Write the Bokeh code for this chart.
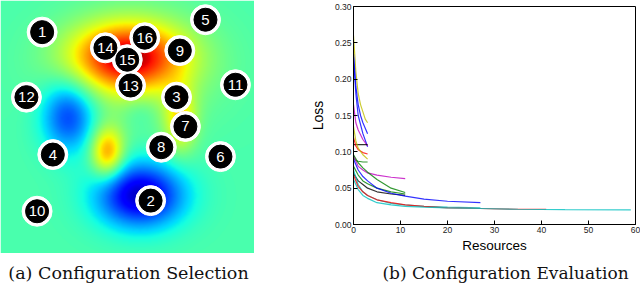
import numpy as np
from bokeh.plotting import figure
from bokeh.models import Range1d, LinearColorMapper, Label, FixedTicker, CustomJSTickFormatter
from bokeh.layouts import column, row
from bokeh.embed import file_html
from bokeh.resources import INLINE
from bokeh.core.properties import value

# ---------------- (a) configuration selection ----------------
cfg_id = [str(i) for i in range(1, 17)]
cfg_x = [0.164, 0.591, 0.693, 0.206, 0.807, 0.866, 0.728, 0.633,
         0.706, 0.144, 0.925, 0.102, 0.512, 0.413, 0.499, 0.568]
cfg_y = [0.875, 0.209, 0.618, 0.391, 0.924, 0.383, 0.502, 0.420,
         0.802, 0.167, 0.667, 0.618, 0.664, 0.813, 0.766, 0.853]

# surface features (centre, amplitude, spread)
base_level = 0.44
bump_x = [0.50, 0.53, 0.55, 0.268, 0.421, 0.709, 0.55]
bump_y = [0.78, 0.74, 0.23, 0.545, 0.399, 0.526, 0.565]
bump_amp = [0.42, 0.12, -0.38, -0.26, 0.31, 0.21, -0.05]
bump_sx = [0.15, 0.21, 0.12, 0.075, 0.045, 0.045, 0.05]
bump_sy = [0.09, 0.15, 0.09, 0.10, 0.07, 0.09, 0.05]

# ---------------- (b) configuration evaluation ----------------
x_ticks = [0, 10, 20, 30, 40, 50, 60]
y_ticks = [0.00, 0.05, 0.10, 0.15, 0.20, 0.25, 0.30]

curve_color = ["#bfbf00", "#0000ff", "#0000ff", "#bf00bf", "#000000", "#ff0000",
               "#bfbf00", "#008000", "#bf00bf", "#008000", "#008000", "#000000",
               "#0000ff", "#00bfbf", "#ff0000", "#00bfbf"]
curve_x = [
    [0, 0.5, 1, 1.5, 2, 2.5, 3],
    [0, 0.5, 1, 1.5, 2, 3],
    [0, 0.5, 1, 2, 3],
    [0, 0.5, 1, 2, 3],
    [0, 3],
    [0, 0.5, 1, 2, 3],
    [0, 0.5, 1, 2, 3],
    [0, 0.5, 1, 2, 3],
    [0, 1, 2, 3, 5, 8, 11],
    [0, 1, 2, 3, 5, 8, 11],
    [0, 1, 2, 3, 5, 8, 11],
    [0, 1, 2, 3, 5, 8, 11],
    [0, 1, 2, 3, 5, 8, 11, 15, 20, 27],
    [0, 1, 2, 3, 5, 8, 11, 15, 20, 27],
    [0, 1, 2, 3, 5, 8, 11, 15, 20, 27, 35, 41],
    [0, 1, 2, 3, 5, 8, 11, 15, 20, 27, 35, 45, 59],
]
curve_y = [
    [0.26, 0.21, 0.18, 0.165, 0.155, 0.145, 0.14],
    [0.235, 0.19, 0.165, 0.15, 0.14, 0.125],
    [0.23, 0.18, 0.15, 0.125, 0.107],
    [0.165, 0.14, 0.13, 0.117, 0.108],
    [0.11, 0.11],
    [0.12, 0.108, 0.103, 0.099, 0.097],
    [0.135, 0.115, 0.105, 0.096, 0.09],
    [0.092, 0.088, 0.087, 0.086, 0.086],
    [0.095, 0.08, 0.075, 0.071, 0.068, 0.065, 0.063],
    [0.096, 0.085, 0.078, 0.072, 0.062, 0.05, 0.044],
    [0.08, 0.068, 0.06, 0.056, 0.05, 0.045, 0.042],
    [0.07, 0.06, 0.055, 0.05, 0.045, 0.042, 0.04],
    [0.09, 0.075, 0.066, 0.06, 0.05, 0.043, 0.039, 0.035, 0.032, 0.03],
    [0.075, 0.055, 0.045, 0.04, 0.034, 0.029, 0.027, 0.025, 0.024, 0.023],
    [0.068, 0.052, 0.045, 0.04, 0.034, 0.03, 0.027, 0.025, 0.023, 0.022, 0.021, 0.021],
    [0.062, 0.048, 0.04, 0.036, 0.03, 0.027, 0.025, 0.024, 0.023, 0.022, 0.021, 0.0205, 0.02],
]

caption_a = "(a) Configuration Selection"
caption_b = "(b) Configuration Evaluation"

# ---------------- jet colour map ----------------
vv = np.linspace(0, 1, 256)
rr = np.interp(vv, [0, 0.35, 0.66, 0.89, 1], [0, 0, 1, 1, 0.5])
gg = np.interp(vv, [0, 0.125, 0.375, 0.64, 0.91, 1], [0, 0, 1, 1, 0, 0])
bb = np.interp(vv, [0, 0.11, 0.34, 0.65, 1], [0.5, 1, 1, 0, 0])
jet = ["#%02x%02x%02x" % (int(r * 255), int(g * 255), int(b * 255)) for r, g, b in zip(rr, gg, bb)]

W_A, H_A = 254, 253
H_TOP = 256
gx, gy = np.meshgrid(np.linspace(0, 1, W_A), np.linspace(0, 1, H_A))
field = np.full_like(gx, base_level)
for bx, by, ba, sx, sy in zip(bump_x, bump_y, bump_amp, bump_sx, bump_sy):
    field += ba * np.exp(-0.5 * (((gx - bx) / sx) ** 2 + ((gy - by) / sy) ** 2))
field = np.clip(field, 0, 1)

fa = figure(width=W_A, height=H_A, x_range=Range1d(0, 1), y_range=Range1d(0, 1),
            min_border=0, output_backend="svg", toolbar_location=None)
fa.frame_align = False
fa.axis.visible = False
fa.grid.visible = False
fa.outline_line_color = None
fa.image(image=[field], x=0, y=0, dw=1, dh=1,
         color_mapper=LinearColorMapper(palette=jet, low=0, high=1))
fa.scatter(cfg_x, cfg_y, size=30, color="white")
fa.scatter(cfg_x, cfg_y, size=23, color="black")
fa.text(cfg_x, cfg_y, text=cfg_id, text_align="center", text_baseline="middle",
        text_color="white", text_font=value("Liberation Sans"), text_font_size="15px")

# ---------------- right panel ----------------
W_B = 640 - W_A
fb = figure(width=W_B, height=H_TOP, x_range=Range1d(0, 60), y_range=Range1d(0, 0.30),
            min_border_left=353 - W_A, min_border_right=5, min_border_top=6,
            min_border_bottom=H_TOP - 224, output_backend="svg", toolbar_location=None)
fb.frame_align = False
fb.grid.visible = False
fb.outline_line_color = "black"
for cx, cy, cc in zip(curve_x, curve_y, curve_color):
    fb.line(cx, cy, line_color=cc, line_width=1.2, line_alpha=0.8)

xa = fb.below[0]
ya = fb.left[0]
for ax in (xa, ya):
    ax.major_tick_in = 4
    ax.major_tick_out = 0
    ax.minor_tick_line_color = None
    ax.axis_line_color = "black"
    ax.major_label_text_font = "Liberation Sans"
    ax.major_label_text_font_size = "8.5px"
    ax.major_label_text_color = "#222222"
    ax.major_label_standoff = 2
    ax.axis_label_text_font = "Liberation Sans"
    ax.axis_label_text_font_style = "normal"
    ax.axis_label_text_color = "black"
xa.ticker = FixedTicker(ticks=x_ticks)
ya.ticker = FixedTicker(ticks=y_ticks)
ya.formatter = CustomJSTickFormatter(code="return tick.toFixed(2);")
xa.axis_label = "Resources"
ya.axis_label = "Loss"
xa.axis_label_text_font_size = "13.5px"
ya.axis_label_text_font_size = "14px"
xa.axis_label_standoff = 2
ya.axis_label_standoff = 6

# ---------------- captions ----------------
H_C = 283 - H_TOP
fc = figure(width=640, height=H_C, x_range=Range1d(0, 640), y_range=Range1d(0, H_C),
            min_border=0, output_backend="svg", toolbar_location=None)
fc.axis.visible = False
fc.grid.visible = False
fc.outline_line_color = None
for txt, xc, fs in [(caption_a, 128, "17.5px"), (caption_b, 505, "17px")]:
    fc.add_layout(Label(x=xc, y=11, text=txt, text_align="center", text_baseline="middle",
                        text_font="DejaVu Serif", text_font_size=fs, text_color="#111111"))

layout = column(row(fa, fb), fc)
open("out.html", "w").write(file_html(layout, INLINE))
